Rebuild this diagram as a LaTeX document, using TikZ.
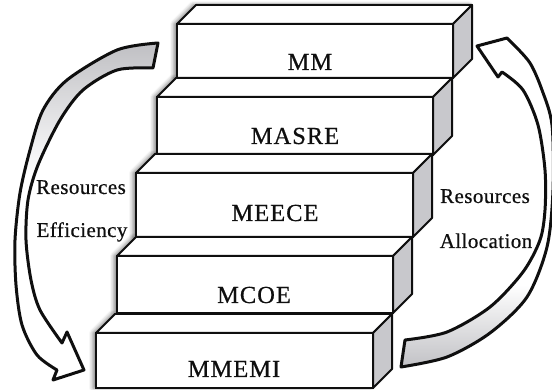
\documentclass[tikz,border=0pt]{standalone}
\usepackage{fontspec}
\setmainfont{Liberation Serif}
\usetikzlibrary{shadows.blur}
\definecolor{sidegray}{RGB}{200,200,204}
\definecolor{arrowgray}{RGB}{190,190,194}
\definecolor{inkc}{RGB}{15,15,15}
\pgfdeclarelayer{bg}
\pgfsetlayers{bg,main}
\newcommand\leftarrowpath{plot[smooth] coordinates {(158,43) (117,50) (67,80) (43,110) (30,150) (20,193) (15,240) (16,285) (22,325) (37,355) (57,370)}
  -- (53,380) -- (84,370) -- (67,332) --
  plot[smooth] coordinates {(62,343) (40,310) (31,280) (26,240) (28,200) (38,165) (60,120) (83,90) (117,70) (153,68)} -- cycle}
\newcommand\rightarrowpath{plot[smooth] coordinates {(401,367) (447,357) (490,333) (527,297) (547,247) (553,190) (552,125) (542,90) (530,63) (513,44)}
  -- (507,38) -- (477,46) -- (498,77) --
  plot[smooth] coordinates {(502,72) (523,90) (538,125) (545,170) (545,210) (540,240) (523,272) (490,307) (447,332) (405,340)} -- cycle}
\begin{document}
\begin{tikzpicture}[x=1pt,y=-1pt,
  front/.style={draw=inkc, line width=2pt, fill=white, inner sep=0pt, outer sep=0pt},
  face/.style={draw=inkc, line width=2pt, line join=round},
  boxlabel/.style={font=\addfontfeature{LetterSpace=4,FakeBold=0.6}\fontsize{24.5}{28}\selectfont, inner sep=0pt, text=inkc},
  sidelabel/.style={font=\addfontfeature{LetterSpace=2,FakeBold=0.6}\fontsize{21}{25}\selectfont, inner sep=0pt, text=inkc},
  arrowline/.style={draw=inkc, line width=3pt, line join=round}]
\useasboundingbox (0,0) rectangle (552,390);
\def\dx{19}
\def\dy{19}
% arrows
\path[fill=white] \leftarrowpath;
\begin{scope}
  \clip \leftarrowpath;
  \shade[top color=arrowgray, bottom color=white] (0,40) rectangle (170,175);
\end{scope}
\draw[arrowline] \leftarrowpath;
\path[fill=white] \rightarrowpath;
\begin{scope}
  \clip \rightarrowpath;
  \shade[top color=white, bottom color=arrowgray] (380,285) rectangle (560,372);
\end{scope}
\draw[arrowline] \rightarrowpath;
% stair boxes
\foreach \n/\L/\T/\R/\B/\txt/\lx/\ly in {mm/177/24/453/78/MM/310/70,
    masre/157/97/433/155/MASRE/295/144,
    meece/136/173/413/237/MEECE/275/221,
    mcoe/117/256/393/313/MCOE/254/303,
    mmemi/96/333/373/388/MMEMI/234/377}{
  \begin{pgfonlayer}{bg}
    \path[blur shadow={shadow xshift=-3pt, shadow yshift=0pt, shadow blur radius=4pt, shadow opacity=50}]
      (\L,\B) -- (\L,\T) -- ++(\dx,-\dy) -- ({\R+\dx},{\T-\dy}) -- ({\R+\dx},{\B-\dy}) -- (\R,\B) -- cycle;
  \end{pgfonlayer}
  \node[front, minimum width={\R-\L}, minimum height={\B-\T}] (\n) at ({(\L+\R)/2},{(\T+\B)/2}) {};
  \draw[face, fill=white] (\n.north west) -- ++(\dx,-\dy) -- ([shift={(\dx,-\dy)}]\n.north east) -- (\n.north east) -- cycle;
  \draw[face, fill=sidegray] (\n.north east) -- ++(\dx,-\dy) -- ([shift={(\dx,-\dy)}]\n.south east) -- (\n.south east) -- cycle;
  \node[boxlabel, anchor=base] (\n-label) at (\lx,\ly) {\txt};
}
% side labels
\node[sidelabel, anchor=base] (reseff1) at (81,194) {Resources};
\node[sidelabel, anchor=base] (reseff2) at (82,237) {Efficiency};
\node[sidelabel, anchor=base] (resall1) at (485,203) {Resources};
\node[sidelabel, anchor=base] (resall2) at (486,248) {Allocation};
\end{tikzpicture}
\end{document}
